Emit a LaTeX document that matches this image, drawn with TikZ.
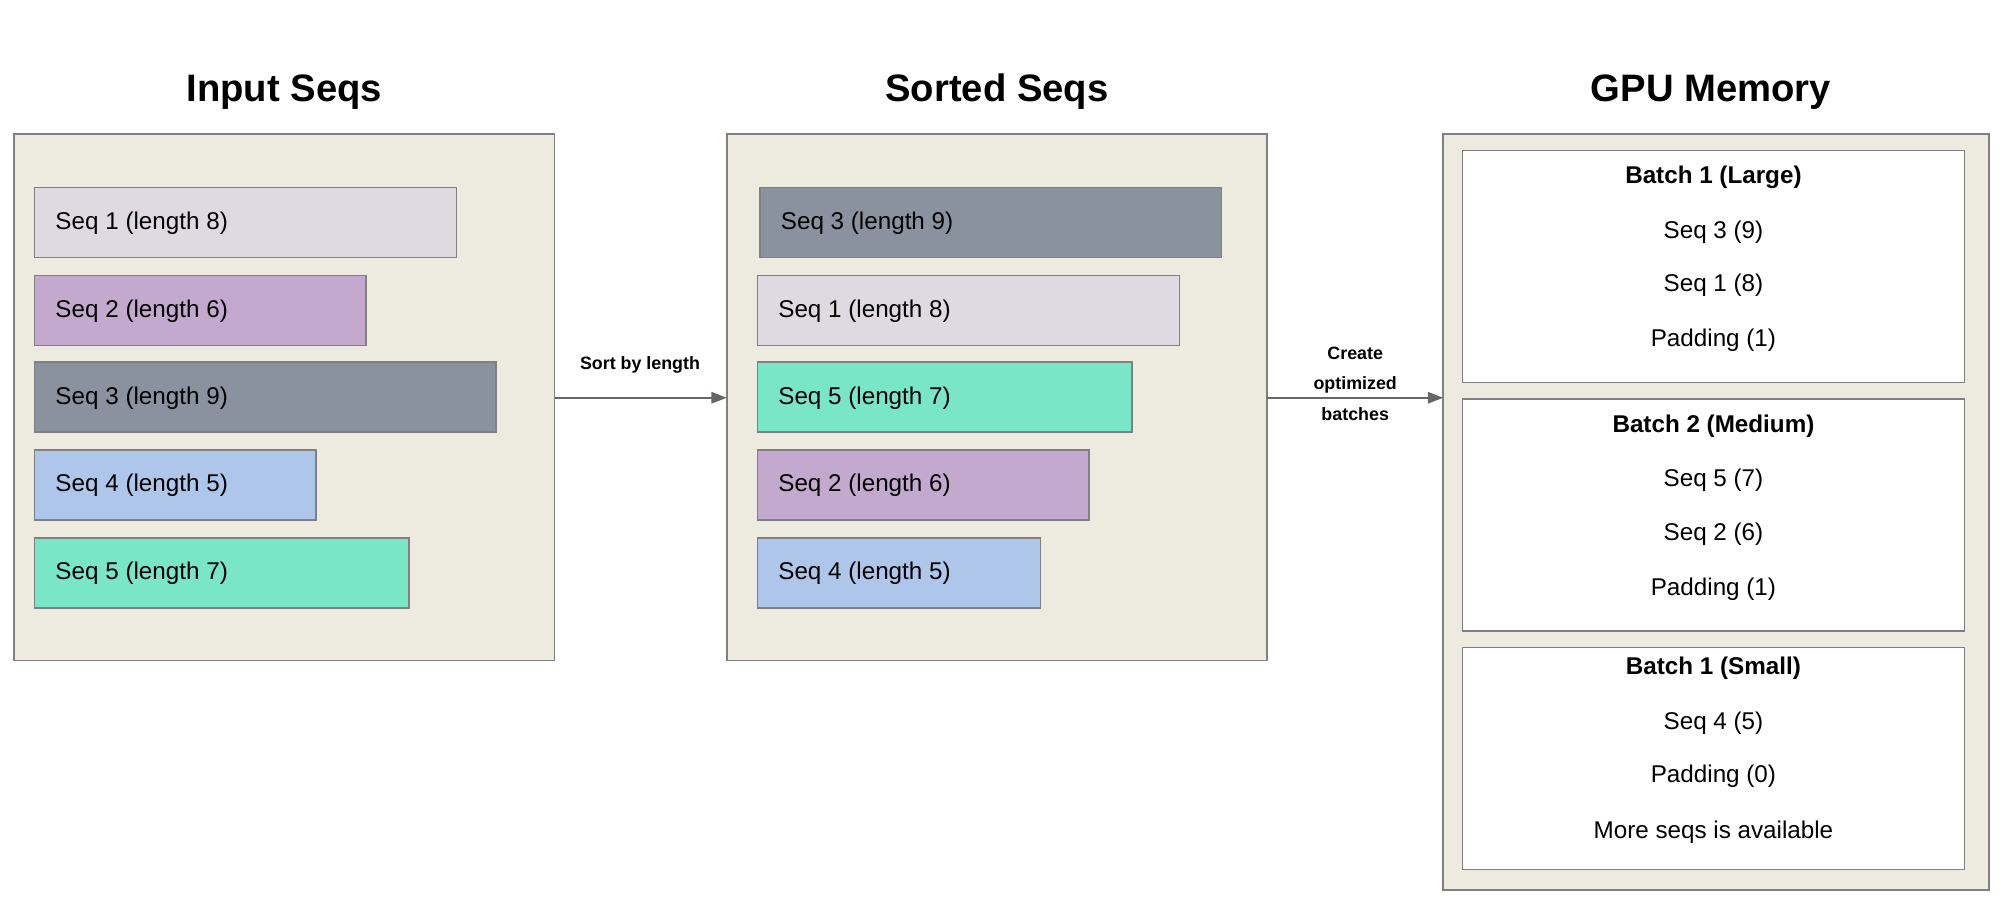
\documentclass[tikz,border=0pt]{standalone}
\usepackage{fontspec}
\setmainfont{Liberation Sans}
\usetikzlibrary{arrows.meta}
\definecolor{panel}{HTML}{EDEBE0}
\definecolor{edge}{HTML}{808080}
\definecolor{cA}{HTML}{DFDAE2}
\definecolor{cB}{HTML}{C3A9CD}
\definecolor{cC}{HTML}{8A919F}
\definecolor{cD}{HTML}{AEC6EA}
\definecolor{cE}{HTML}{79E6C8}
\begin{document}
\begin{tikzpicture}[x=1pt,y=-1pt,
  panelbox/.style={draw=edge,fill=panel,line width=1.3pt},
  bar/.style={draw=edge,line width=1.2pt},
  bartext/.style={anchor=west,font=\fontsize{19}{22}\selectfont},
  ttl/.style={font=\bfseries\fontsize{30}{34}\selectfont},
  batchbox/.style={draw=edge,fill=white,line width=1.2pt},
  btext/.style={font=\fontsize{19}{22}\selectfont},
  bhead/.style={font=\bfseries\fontsize{19}{22}\selectfont},
  lab/.style={font=\bfseries\fontsize{14}{24}\selectfont,align=center},
  arr/.style={draw=edge!80!black,line width=1.2pt,-{Triangle[length=12pt,width=9pt]}}]
\useasboundingbox (0,0) rectangle (1568,708);
% panels
\draw[panelbox] (11,105) rectangle (435,518);
\node[panelbox,draw=none,fill=none,minimum width=424pt,minimum height=413pt,inner sep=0] (p1) at (223,311.5) {};
\draw[panelbox] (570,105) rectangle (994,518);
\node[inner sep=0,minimum width=424pt,minimum height=413pt] (p2) at (782,311.5) {};
\draw[panelbox] (1132,105) rectangle (1560,698);
\node[inner sep=0,minimum width=428pt,minimum height=593pt] (p3) at (1346,401.5) {};
\node[ttl] (t1) at (223,72) {Input Seqs};
\node[ttl] (t2) at (782,72) {Sorted Seqs};
\node[ttl] (t3) at (1342,72) {GPU Memory};
% input bars
\foreach \n/\r/\t/\c/\y in {a/358/1 (length 8)/cA/147, b/287/2 (length 6)/cB/216, c/389/3 (length 9)/cC/284, d/248/4 (length 5)/cD/353, e/321/5 (length 7)/cE/422}{
  \draw[bar,fill=\c] (27,\y) rectangle (\r,\y+55);
  \node[bartext] (i\n) at (40,\y+28) {Seq \t};
}
% sorted bars
\foreach \n/\l/\r/\t/\c/\y in {a/596/958/3 (length 9)/cC/147, b/594/925/1 (length 8)/cA/216, c/594/888/5 (length 7)/cE/284, d/594/854/2 (length 6)/cB/353, e/594/816/4 (length 5)/cD/422}{
  \draw[bar,fill=\c] (\l,\y) rectangle (\r,\y+55);
  \node[bartext] (s\n) at (\l+13,\y+28) {Seq \t};
}
% batches
\draw[batchbox] (1147,118) rectangle (1541,300);
\draw[batchbox] (1147,313) rectangle (1541,495);
\draw[batchbox] (1147,508) rectangle (1541,682);
\node[bhead] (b1) at (1344,139) {Batch 1 (Large)};
\node[btext] (b1a) at (1344,182) {Seq 3 (9)};
\node[btext] (b1b) at (1344,224) {Seq 1 (8)};
\node[btext] (b1c) at (1344,267) {Padding (1)};
\node[bhead] (b2) at (1344,334) {Batch 2 (Medium)};
\node[btext] (b2a) at (1344,377) {Seq 5 (7)};
\node[btext] (b2b) at (1344,419) {Seq 2 (6)};
\node[btext] (b2c) at (1344,462) {Padding (1)};
\node[bhead] (b3) at (1344,524) {Batch 1 (Small)};
\node[btext] (b3a) at (1344,567) {Seq 4 (5)};
\node[btext] (b3b) at (1344,609) {Padding (0)};
\node[btext] (b3c) at (1344,653) {More seqs is available};
% arrows
\coordinate (a1s) at (435,312); \coordinate (a1e) at (570,312);
\coordinate (a2s) at (994,312); \coordinate (a2e) at (1132,312);
\draw[arr] (a1s) -- (a1e);
\draw[arr] (a2s) -- (a2e);
\node[lab] (l1) at (502,286) {Sort by length};
\node[lab] (l2) at (1063,301) {Create\\optimized\\batches};
\end{tikzpicture}
\end{document}
